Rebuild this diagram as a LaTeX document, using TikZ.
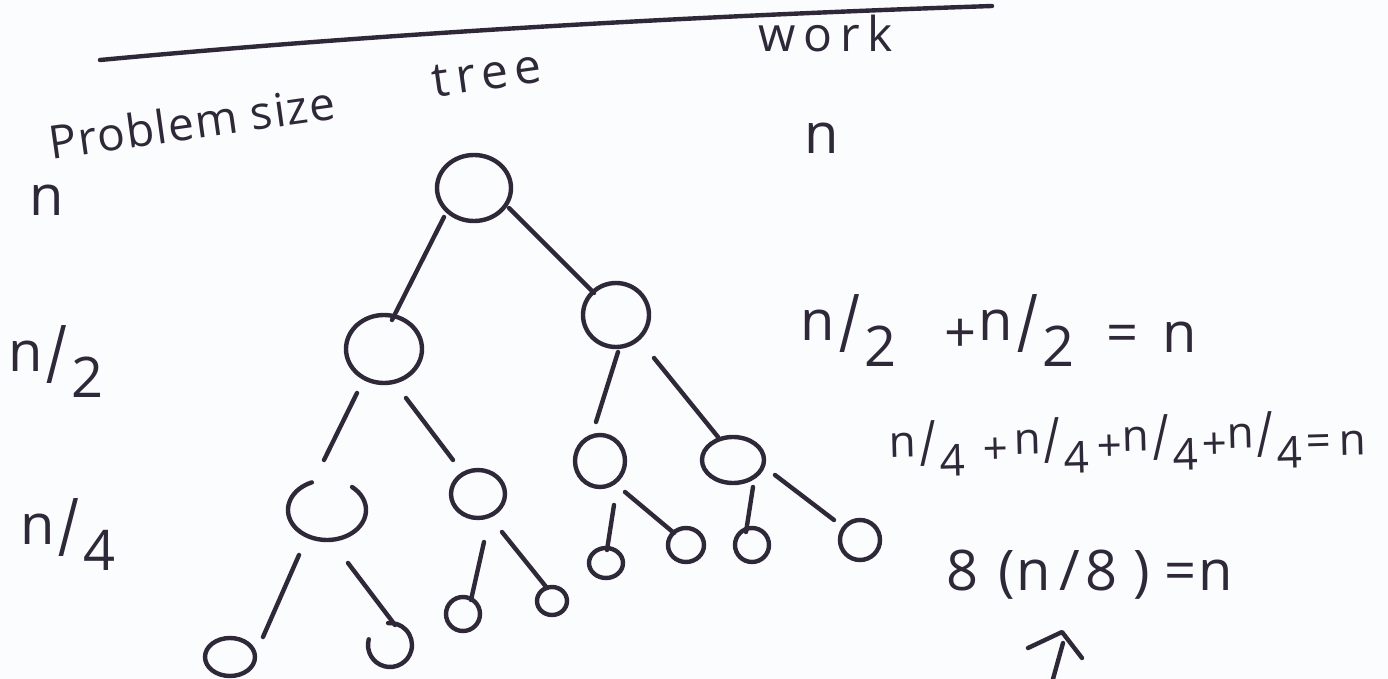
\documentclass[tikz,border=0pt]{standalone}
\usepackage{fontspec}
\usepackage{graphicx}
\setmainfont{Open Sans}
\usetikzlibrary{shapes.geometric,calc}
\definecolor{ink}{HTML}{2E2838}
\definecolor{paper}{HTML}{FBFCFD}
% handwritten-style fraction: numerator up, tall slash, denominator down
\newcommand\hfrac[2]{\raisebox{0.22em}{#1}\kern0.08em\scalebox{1}[1.45]{/}\kern0.08em\raisebox{-0.25em}{#2}}
% edge between two tree nodes, each end offset from the node centre
\newcommand\treelink[6]{\draw[stroke] ($(#1)+(#2,#3)$) -- ($(#4)+(#5,#6)$);}

\begin{document}
\begin{tikzpicture}[x=0.5pt,y=-0.5pt,
  stroke/.style={draw=ink, line width=2.2pt, line cap=round, line join=round},
  vtx/.style 2 args={ellipse, draw=ink, line width=2.2pt,
    minimum width=#1*0.5pt, minimum height=#2*0.5pt, inner sep=0pt, outer sep=0pt},
  openvtx/.style 2 args={vtx={#1}{#2}, draw=none},
  hand/.style={text=ink, inner sep=0pt, font=\fontsize{28}{32}\selectfont},
  small/.style={hand, font=\fontsize{22}{26}\selectfont},
  title/.style={hand, font=\fontsize{24}{28}\selectfont},
]
\fill[paper] (0,0) rectangle (1388,679);
\useasboundingbox (0,0) rectangle (1388,679);

% header rule and column titles
\draw[stroke] (100,60) .. controls (400,32) and (700,16) .. (992,6);
\node[title, font=\fontsize{23}{28}\selectfont\addfontfeature{LetterSpace=3}, rotate=8] (psize) at (192,122) {Problem size};
\node[title, font=\fontsize{24}{28}\selectfont\addfontfeature{LetterSpace=14}, rotate=8] (treehead) at (487,74) {tree};
\node[title, font=\fontsize{24}{28}\selectfont\addfontfeature{LetterSpace=16}] (workhead) at (826,34) {work};

% problem size column
\node[hand] (sz0) at (47,200) {n};
\node[hand] (sz1) at (56,362) {\hfrac{n}{2}};
\node[hand] (sz2) at (68,535) {\hfrac{n}{4}};

% recursion tree
\node[vtx={74}{66}] (root) at (474,188) {};
\node[vtx={76}{68}] (a) at (384,349) {};
\node[vtx={66}{64}] (b) at (616,315) {};
\node[openvtx={78}{60}] (aa) at (327,510) {};
\node[vtx={54}{48}] (ab) at (478,494) {};
\node[vtx={50}{52}] (ba) at (600,461) {};
\node[vtx={62}{46}] (bb) at (733,460) {};
\node[vtx={50}{38}] (aaa) at (230,657) {};
\node[openvtx={44}{44}] (aab) at (390,645) {};
\node[vtx={34}{34}] (aba) at (463,614) {};
\node[vtx={30}{28}] (abb) at (552,601) {};
\node[vtx={34}{30}] (baa) at (606,563) {};
\node[vtx={36}{34}] (bab) at (686,545) {};
\node[vtx={34}{34}] (bba) at (752,545) {};
\node[vtx={40}{40}] (bbb) at (860,540) {};

% the two hand-drawn open circles
\draw[stroke] ($(aa)+(247:39 and 30)$) arc[start angle=247, end angle=-50, x radius=39, y radius=30];
\draw[stroke] ($(aab)+(195:22 and 22)$) arc[start angle=195, end angle=-95, x radius=22, y radius=22];

\treelink{root}{-30}{29}{a}{8}{-29}
\treelink{root}{35}{20}{b}{-22}{-22}
\treelink{a}{-27}{44}{aa}{-3}{-50}
\treelink{a}{22}{49}{ab}{-25}{-34}
\treelink{b}{2}{37}{ba}{-4}{-39}
\treelink{b}{38}{43}{bb}{-15}{-23}
\treelink{aa}{-28}{45}{aaa}{33}{-20}
\treelink{aa}{21}{53}{aab}{5}{-20}
\treelink{ab}{6}{48}{aba}{8}{-14}
\treelink{ab}{24}{38}{abb}{-5}{-13}
\treelink{ba}{14}{44}{baa}{1}{-13}
\treelink{ba}{25}{31}{bab}{-12}{-12}
\treelink{bb}{20}{27}{bba}{-6}{-13}
\treelink{bb}{42}{15}{bbb}{-26}{-20}

% work column
\node[hand] (w0) at (822,138) {n};
\node[hand, anchor=west] (w1) at (800,331)
  {\hfrac{n}{2}\kern24pt+\kern1pt\hfrac{n}{2}\kern16pt=\kern12pt n};
\node[small, anchor=west, rotate=1.5] (w2) at (889,450)
  {\hfrac{n}{4}\kern9pt+\kern3pt\hfrac{n}{4}\kern4pt+\kern0pt\hfrac{n}{4}\kern2pt+\kern0pt\hfrac{n}{4}\kern2pt=\kern4pt n};
\node[hand, anchor=west] (w3) at (946,575)
  {8\kern10pt(\kern1pt n\kern4pt/\kern3pt8\kern8pt)\kern7pt=\kern1pt n};

% arrow pointing up at the last row
\coordinate (tail) at (1053,679);
\coordinate (shafttop) at (1063,643);
\coordinate (tip) at (1062,632);
\coordinate (barbl) at (1028,648);
\coordinate (barbr) at (1082,658);
\draw[stroke] (tail) -- (shafttop);
\draw[stroke] (barbl) -- (tip) -- (barbr);
\end{tikzpicture}
\end{document}
